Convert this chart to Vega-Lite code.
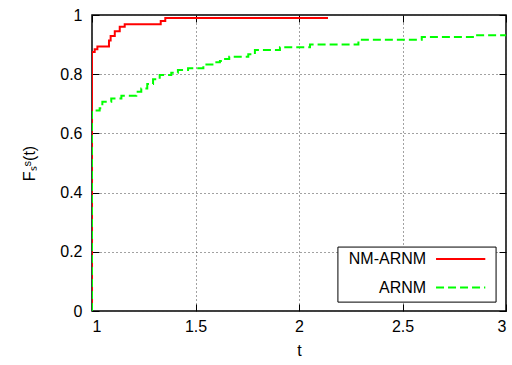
{
  "$schema": "https://vega.github.io/schema/vega-lite/v6.json",
  "width": 414,
  "height": 296,
  "autosize": {"type": "none"},
  "padding": {"left": 92, "top": 15, "right": 6, "bottom": 54},
  "background": "white",
  "config": {
    "font": "Liberation Sans",
    "view": {"stroke": "black", "strokeWidth": 1.5},
    "axis": {
      "domain": false,
      "labelFont": "Liberation Sans",
      "titleFont": "Liberation Sans",
      "labelFontSize": 16,
      "titleFontSize": 16,
      "titleFontWeight": "normal",
      "labelColor": "black",
      "titleColor": "black",
      "tickColor": "black",
      "tickSize": -7,
      "tickWidth": 1,
      "gridColor": "#444",
      "gridDash": [1, 3],
      "gridOpacity": 1,
      "gridWidth": 1
    }
  },
  "datasets": {
    "cdf": [
      {"series": "NM-ARNM", "i": 0, "t": 1.0, "F": 0.0},
      {"series": "NM-ARNM", "i": 1, "t": 1.0, "F": 0.875},
      {"series": "NM-ARNM", "i": 2, "t": 1.013, "F": 0.884},
      {"series": "NM-ARNM", "i": 3, "t": 1.026, "F": 0.894},
      {"series": "NM-ARNM", "i": 4, "t": 1.082, "F": 0.914},
      {"series": "NM-ARNM", "i": 5, "t": 1.09, "F": 0.929},
      {"series": "NM-ARNM", "i": 6, "t": 1.11, "F": 0.945},
      {"series": "NM-ARNM", "i": 7, "t": 1.134, "F": 0.96},
      {"series": "NM-ARNM", "i": 8, "t": 1.158, "F": 0.969},
      {"series": "NM-ARNM", "i": 9, "t": 1.332, "F": 0.98},
      {"series": "NM-ARNM", "i": 10, "t": 1.354, "F": 0.99},
      {"series": "NM-ARNM", "i": 11, "t": 2.14, "F": 0.99},
      {"series": "ARNM", "i": 0, "t": 1.0, "F": 0.0},
      {"series": "ARNM", "i": 1, "t": 1.0, "F": 0.677},
      {"series": "ARNM", "i": 2, "t": 1.037, "F": 0.685},
      {"series": "ARNM", "i": 3, "t": 1.05, "F": 0.707},
      {"series": "ARNM", "i": 4, "t": 1.093, "F": 0.718},
      {"series": "ARNM", "i": 5, "t": 1.142, "F": 0.727},
      {"series": "ARNM", "i": 6, "t": 1.214, "F": 0.741},
      {"series": "ARNM", "i": 7, "t": 1.238, "F": 0.752},
      {"series": "ARNM", "i": 8, "t": 1.267, "F": 0.767},
      {"series": "ARNM", "i": 9, "t": 1.295, "F": 0.783},
      {"series": "ARNM", "i": 10, "t": 1.327, "F": 0.797},
      {"series": "ARNM", "i": 11, "t": 1.383, "F": 0.805},
      {"series": "ARNM", "i": 12, "t": 1.415, "F": 0.814},
      {"series": "ARNM", "i": 13, "t": 1.464, "F": 0.82},
      {"series": "ARNM", "i": 14, "t": 1.538, "F": 0.833},
      {"series": "ARNM", "i": 15, "t": 1.594, "F": 0.84},
      {"series": "ARNM", "i": 16, "t": 1.618, "F": 0.845},
      {"series": "ARNM", "i": 17, "t": 1.643, "F": 0.851},
      {"series": "ARNM", "i": 18, "t": 1.663, "F": 0.859},
      {"series": "ARNM", "i": 19, "t": 1.755, "F": 0.867},
      {"series": "ARNM", "i": 20, "t": 1.787, "F": 0.882},
      {"series": "ARNM", "i": 21, "t": 1.908, "F": 0.891},
      {"series": "ARNM", "i": 22, "t": 2.053, "F": 0.9},
      {"series": "ARNM", "i": 23, "t": 2.287, "F": 0.916},
      {"series": "ARNM", "i": 24, "t": 2.593, "F": 0.926},
      {"series": "ARNM", "i": 25, "t": 2.85, "F": 0.932},
      {"series": "ARNM", "i": 26, "t": 3.0, "F": 0.932}
    ],
    "one": [{}]
  },
  "layer": [
    {
      "data": {"name": "cdf"},
      "mark": {"type": "line", "interpolate": "step-after", "strokeWidth": 2, "clip": true},
      "encoding": {
        "x": {
          "field": "t", "type": "quantitative",
          "scale": {"domain": [1, 3], "nice": false, "zero": false},
          "axis": {"orient": "bottom", "grid": true, "values": [1, 1.5, 2, 2.5, 3], "format": "~g", "title": "t", "labelPadding": 14, "titlePadding": 8}
        },
        "y": {
          "field": "F", "type": "quantitative",
          "scale": {"domain": [0, 1], "nice": false},
          "axis": {"orient": "left", "grid": true, "values": [0, 0.2, 0.4, 0.6, 0.8, 1], "format": "~g", "title": "Fₛˢ(t)", "labelPadding": 17, "titlePadding": 22}
        },
        "color": {
          "field": "series", "type": "nominal",
          "scale": {"domain": ["NM-ARNM", "ARNM"], "range": ["#ff0000", "#00ff00"]},
          "legend": null
        },
        "strokeDash": {
          "field": "series", "type": "nominal",
          "scale": {"domain": ["NM-ARNM", "ARNM"], "range": [[1, 0], [8, 4]]},
          "legend": null
        },
        "order": {"field": "i", "type": "quantitative"}
      }
    },
    {
      "data": {"name": "one"},
      "mark": {"type": "rect", "fill": "white", "stroke": "black", "strokeWidth": 1},
      "encoding": {
        "x": {"datum": 2.188, "type": "quantitative", "axis": {"orient": "top", "grid": false, "labels": false, "ticks": true, "title": null, "values": [1, 1.5, 2, 2.5, 3]}},
        "x2": {"datum": 2.952},
        "y": {"datum": 0.216, "type": "quantitative", "axis": {"orient": "right", "grid": false, "labels": false, "ticks": true, "title": null, "values": [0, 0.2, 0.4, 0.6, 0.8, 1]}},
        "y2": {"datum": 0.03}
      }
    },
    {
      "data": {"name": "one"},
      "mark": {"type": "text", "align": "right", "baseline": "middle", "fontSize": 16, "font": "Liberation Sans", "color": "black"},
      "encoding": {
        "x": {"datum": 2.614, "type": "quantitative", "axis": null},
        "y": {"datum": 0.176, "type": "quantitative", "axis": null},
        "text": {"value": "NM-ARNM"}
      }
    },
    {
      "data": {"name": "one"},
      "mark": {"type": "text", "align": "right", "baseline": "middle", "fontSize": 16, "font": "Liberation Sans", "color": "black"},
      "encoding": {
        "x": {"datum": 2.614, "type": "quantitative", "axis": null},
        "y": {"datum": 0.079, "type": "quantitative", "axis": null},
        "text": {"value": "ARNM"}
      }
    },
    {
      "data": {"name": "one"},
      "mark": {"type": "rule", "color": "#ff0000", "strokeWidth": 2},
      "encoding": {
        "x": {"datum": 2.662, "type": "quantitative", "axis": null},
        "x2": {"datum": 2.9},
        "y": {"datum": 0.176, "type": "quantitative", "axis": null}
      }
    },
    {
      "data": {"name": "one"},
      "mark": {"type": "rule", "color": "#00ff00", "strokeWidth": 2, "strokeDash": [8, 4]},
      "encoding": {
        "x": {"datum": 2.662, "type": "quantitative", "axis": null},
        "x2": {"datum": 2.9},
        "y": {"datum": 0.079, "type": "quantitative", "axis": null}
      }
    }
  ],
  "resolve": {"axis": {"x": "independent", "y": "independent"}}
}
